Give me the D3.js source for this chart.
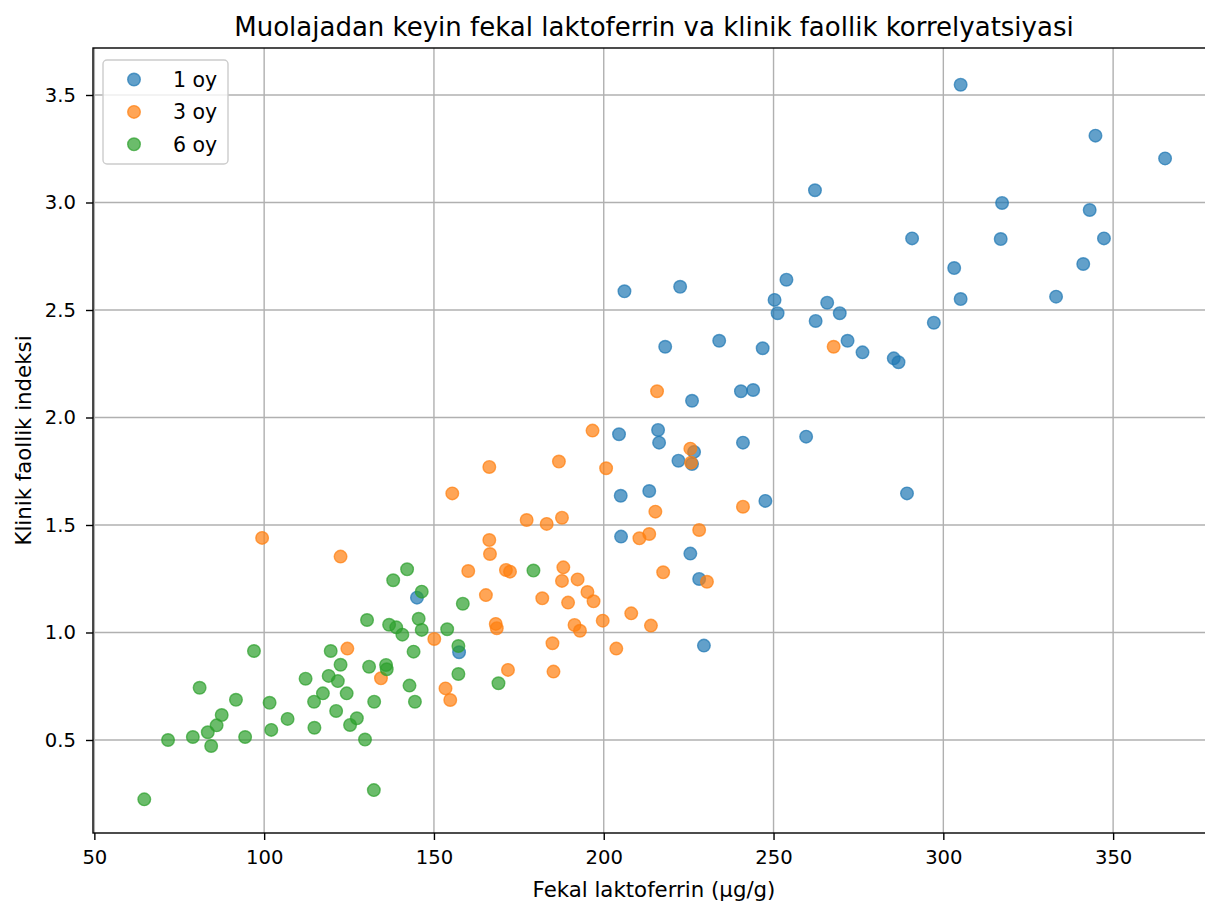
<!DOCTYPE html>
<html>
<head>
<meta charset="utf-8">
<script src="https://cdn.jsdelivr.net/npm/d3@7"></script>
<style>
  body { margin: 0; background: #fff; }
  svg { display: block; font-family: "DejaVu Sans", sans-serif; }
</style>
</head>
<body>
<div id="chart"></div>
<script>
// 1 oy
let x1 = [305.1, 344.8, 365.3, 262.2, 317.3, 343.1, 290.8, 316.9, 347.3, 303.2,
  341.2, 206.1, 222.5, 305.1, 333.2, 253.8, 250.3, 251.2, 265.8, 269.5,
  262.4, 297.2, 218.1, 234.0, 246.8, 271.8, 276.2, 285.4, 286.8, 226.0,
  240.4, 244.0, 204.5, 216.0, 216.3, 241.0, 259.6, 226.6, 222.0, 226.0,
  205.0, 213.4, 247.6, 289.3, 205.1, 225.5, 228.1, 229.5, 145.0, 157.4]
let y1 = [3.548, 3.311, 3.205, 3.057, 2.998, 2.965, 2.833, 2.830, 2.833, 2.695,
  2.714, 2.587, 2.608, 2.551, 2.562, 2.641, 2.547, 2.485, 2.534, 2.485,
  2.449, 2.441, 2.329, 2.357, 2.322, 2.357, 2.303, 2.275, 2.257, 2.078,
  2.122, 2.128, 1.922, 1.942, 1.883, 1.883, 1.911, 1.840, 1.799, 1.784,
  1.636, 1.658, 1.612, 1.647, 1.446, 1.367, 1.249, 0.939, 1.162, 0.908]

// 3 oy
let x3 = [267.7, 215.7, 196.7, 225.5, 225.7, 200.7, 215.2, 241.0, 210.5, 213.4,
  228.1, 217.5, 230.4, 195.2, 197.0, 208.1, 199.7, 213.9, 203.7, 166.3,
  186.8, 155.4, 177.3, 183.2, 187.7, 122.5, 166.3, 166.5, 160.1, 171.2,
  172.4, 188.1, 187.7, 192.3, 165.3, 181.9, 189.5, 168.2, 168.5, 191.4,
  193.0, 150.1, 124.5, 184.9, 171.8, 185.2, 134.4, 153.4, 154.8, 99.4]
let y3 = [2.329, 2.122, 1.939, 1.855, 1.790, 1.764, 1.562, 1.585, 1.438, 1.458,
  1.477, 1.280, 1.236, 1.188, 1.145, 1.089, 1.055, 1.032, 0.925, 1.770,
  1.795, 1.647, 1.523, 1.505, 1.534, 1.353, 1.430, 1.365, 1.286, 1.291,
  1.283, 1.303, 1.240, 1.247, 1.174, 1.159, 1.139, 1.040, 1.020, 1.035,
  1.008, 0.970, 0.925, 0.950, 0.826, 0.818, 0.787, 0.740, 0.686, 1.440]

// 6 oy
let x6 = [64.7, 71.7, 79.0, 83.4, 84.4, 86.0, 87.5, 81.0, 91.7, 94.4,
  97.0, 101.6, 102.1, 106.9, 112.2, 114.8, 114.7, 117.3, 119.0, 119.6,
  121.2, 121.7, 122.5, 124.3, 125.3, 127.3, 129.7, 132.3, 130.3, 130.9,
  132.4, 135.9, 136.1, 136.8, 138.9, 140.7, 138.0, 142.1, 146.4, 158.5,
  179.3, 145.5, 146.4, 153.9, 157.2, 144.0, 157.2, 169.0, 142.8, 144.4]
let y6 = [0.224, 0.500, 0.514, 0.536, 0.472, 0.568, 0.616, 0.743, 0.687, 0.514,
  0.914, 0.673, 0.547, 0.598, 0.785, 0.557, 0.678, 0.717, 0.798, 0.914,
  0.635, 0.774, 0.850, 0.717, 0.570, 0.601, 0.502, 0.267, 1.058, 0.841,
  0.678, 0.849, 0.829, 1.036, 1.024, 0.990, 1.243, 1.294, 1.190, 1.134,
  1.288, 1.064, 1.012, 1.015, 0.937, 0.911, 0.807, 0.764, 0.753, 0.678]

let groups = ["1 oy", "3 oy", "6 oy"]
let colors = ["#1f77b4", "#ff7f0e", "#2ca02c"]
let xTicks = [50, 100, 150, 200, 250, 300, 350]
let yTicks = [0.5, 1.0, 1.5, 2.0, 2.5, 3.0, 3.5]

let series = [
  { name: groups[0], color: colors[0], pts: x1.map((v, i) => [v, y1[i]]) },
  { name: groups[1], color: colors[1], pts: x3.map((v, i) => [v, y3[i]]) },
  { name: groups[2], color: colors[2], pts: x6.map((v, i) => [v, y6[i]]) }
]

let width = 1205
let height = 901
// the right spine sits just past the picture's edge
let margin = { top: 48, right: -10, bottom: 68, left: 93 }

let x = d3.scaleLinear()
    .domain([49.6, 380])
    .range([margin.left, width - margin.right])

let y = d3.scaleLinear()
    .domain([0.0674, 3.7186])
    .range([height - margin.bottom, margin.top])

let svg = d3.select('#chart')
    .append('svg')
    .attr('width', width)
    .attr('height', height)

svg.append('clipPath').attr('id', 'plot')
    .append('rect')
    .attr('x', margin.left).attr('y', margin.top)
    .attr('width', width - margin.right - margin.left)
    .attr('height', height - margin.bottom - margin.top)

// grid
let grid = svg.append('g').attr('clip-path', 'url(#plot)')
grid.selectAll('.vx').data(xTicks).join('line')
    .attr('x1', d => x(d)).attr('x2', d => x(d))
    .attr('y1', margin.top).attr('y2', height - margin.bottom)
    .attr('stroke', '#b0b0b0').attr('stroke-width', 1.4)
grid.selectAll('.hy').data(yTicks).join('line')
    .attr('y1', d => y(d)).attr('y2', d => y(d))
    .attr('x1', margin.left).attr('x2', width - margin.right)
    .attr('stroke', '#b0b0b0').attr('stroke-width', 1.4)

// points
let pts = svg.append('g').attr('clip-path', 'url(#plot)')
series.forEach(s => {
    pts.append('g').selectAll('circle').data(s.pts).join('circle')
        .attr('cx', d => x(d[0]))
        .attr('cy', d => y(d[1]))
        .attr('r', 6.3)
        .attr('fill', s.color).attr('fill-opacity', 0.7)
        .attr('stroke', s.color).attr('stroke-opacity', 0.7)
        .attr('stroke-width', 1.4)
})

// axes
let xAxis = d3.axisBottom(x).tickValues(xTicks).tickFormat(d3.format('d'))
    .tickSize(7).tickPadding(10)
let yAxis = d3.axisLeft(y).tickValues(yTicks).tickFormat(d3.format('.1f'))
    .tickSize(7).tickPadding(10)

let gx = svg.append('g')
    .attr('transform', `translate(0,${height - margin.bottom})`)
    .call(xAxis)
let gy = svg.append('g')
    .attr('transform', `translate(${margin.left},0)`)
    .call(yAxis)

;[gx, gy].forEach(g => {
    g.select('.domain').remove()
    g.selectAll('line').attr('stroke', '#000').attr('stroke-width', 1.4)
    g.selectAll('text')
        .attr('font-family', '"DejaVu Sans", sans-serif')
        .attr('font-size', '19.6px')
        .attr('fill', '#000')
})

// spines
svg.append('rect')
    .attr('x', margin.left).attr('y', margin.top)
    .attr('width', width - margin.right - margin.left)
    .attr('height', height - margin.bottom - margin.top)
    .attr('fill', 'none').attr('stroke', '#000').attr('stroke-width', 1.4)

// labels
svg.append('text')
    .attr('x', (margin.left + width - margin.right) / 2)
    .attr('y', 35.5)
    .attr('text-anchor', 'middle')
    .attr('font-size', '26px')
    .text('Muolajadan keyin fekal laktoferrin va klinik faollik korrelyatsiyasi')

svg.append('text')
    .attr('x', (margin.left + width - margin.right) / 2)
    .attr('y', 897)
    .attr('text-anchor', 'middle')
    .attr('font-size', '21.3px')
    .text('Fekal laktoferrin (µg/g)')

svg.append('text')
    .attr('transform', `translate(31,${(margin.top + height - margin.bottom) / 2}) rotate(-90)`)
    .attr('text-anchor', 'middle')
    .attr('font-size', '21.3px')
    .text('Klinik faollik indeksi')

// legend
let legend = svg.append('g').attr('transform', 'translate(103,60)')
legend.append('rect')
    .attr('width', 125).attr('height', 104)
    .attr('rx', 4)
    .attr('fill', '#fff').attr('fill-opacity', 0.8)
    .attr('stroke', '#cccccc').attr('stroke-width', 1.4)

let item = legend.selectAll('.item').data(series).join('g')
    .attr('transform', (d, i) => `translate(0,${19.5 + i * 32.4})`)
item.append('circle')
    .attr('cx', 31).attr('cy', 0).attr('r', 6.3)
    .attr('fill', d => d.color).attr('fill-opacity', 0.7)
    .attr('stroke', d => d.color).attr('stroke-opacity', 0.7)
    .attr('stroke-width', 1.4)
item.append('text')
    .attr('x', 70).attr('y', 7.5)
    .attr('font-size', '20.5px')
    .text(d => d.name)
</script>
</body>
</html>
